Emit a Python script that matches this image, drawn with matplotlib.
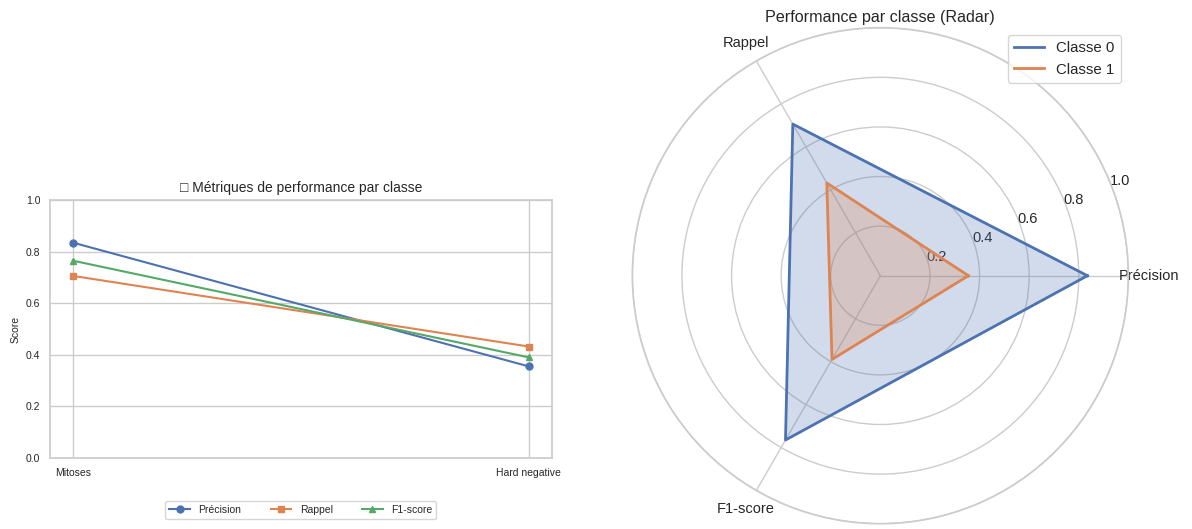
import matplotlib
matplotlib.use("Agg")
import matplotlib.pyplot as plt
import numpy as np

# Per-class scores
classes = ["Mitoses", "Hard negative"]
precision = [0.835, 0.355]
recall = [0.706, 0.432]
f1_score = [0.765, 0.390]

metric_names = ["Précision", "Rappel", "F1-score"]
class_names = ["Classe 0", "Classe 1"]
radar_ticks = [0.2, 0.4, 0.6, 0.8, 1.0]

BLUE, ORANGE, GREEN = "#4C72B0", "#DD8452", "#55A868"
GRID = "#cccccc"
TEXT = "#262626"

plt.rcParams.update({
    "font.family": ["Liberation Sans", "DejaVu Sans"],
    "axes.edgecolor": GRID,
    "axes.linewidth": 1.25,
    "grid.color": GRID,
    "grid.linewidth": 1.0,
    "axes.grid": True,
    "axes.axisbelow": True,
    "text.color": TEXT,
    "axes.labelcolor": TEXT,
    "xtick.color": TEXT,
    "ytick.color": TEXT,
    "xtick.major.size": 0,
    "ytick.major.size": 0,
    "legend.edgecolor": GRID,
})

fig = plt.figure(figsize=(11.92, 5.29), dpi=100)

# ---- Line chart: metrics per class ----
ax1 = fig.add_axes([0.0419, 0.1342, 0.4209, 0.4877])
x = np.arange(len(classes))
series = [(precision, "o", BLUE), (recall, "s", ORANGE), (f1_score, "^", GREEN)]
for (vals, mk, col), name in zip(series, metric_names):
    ax1.plot(x, vals, marker=mk, color=col, lw=1.5, ms=5, label=name)
ax1.set_xticks(x, classes)
ax1.set_ylim(0, 1)
ax1.set_yticks(np.linspace(0, 1, 6))
ax1.tick_params(labelsize=7.5, pad=7)
ax1.set_ylabel("Score", fontsize=7.5)
ax1.set_title("\u25a1 Métriques de performance par classe", fontsize=10, pad=6)
ax1.legend(loc="upper center", bbox_to_anchor=(0.5, -0.145), ncol=3,
           fontsize=7.5, frameon=True, fancybox=True, columnspacing=2.8)

# ---- Radar chart: per-class profile ----
ax2 = fig.add_axes([0.5305, 0.0100, 0.4161, 0.9376], polar=True)
angles = np.linspace(0, 2 * np.pi, len(metric_names), endpoint=False)
closed = np.concatenate([angles, angles[:1]])
class_values = [
    [precision[0], recall[0], f1_score[0]],
    [precision[1], recall[1], f1_score[1]],
]
for vals, col, name in zip(class_values, [BLUE, ORANGE], class_names):
    v = np.concatenate([vals, vals[:1]])
    ax2.plot(closed, v, color=col, lw=2, label=name)
    ax2.fill(closed, v, color=col, alpha=0.25)
ax2.set_xticks(angles, metric_names)
ax2.set_ylim(0, 1)
ax2.set_yticks(radar_ticks)
ax2.set_rlabel_position(22.5)
ax2.tick_params(axis="x", labelsize=10.5, pad=8)
ax2.tick_params(axis="y", labelsize=10.5)
for lbl in ax2.get_yticklabels():
    lbl.set_verticalalignment("center")
ax2.set_title("Performance par classe (Radar)", fontsize=11.6, pad=4)
ax2.legend(loc="upper right", fontsize=10.8, frameon=True)

fig.savefig("out.png", dpi=100)
